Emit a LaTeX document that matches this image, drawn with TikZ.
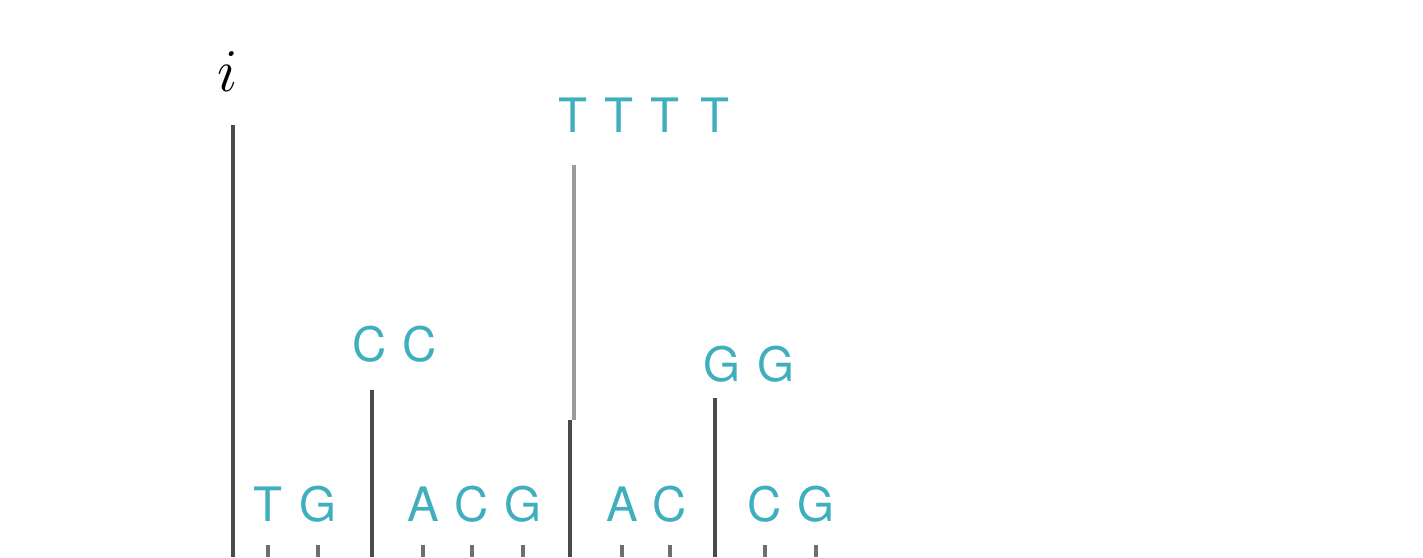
\documentclass[tikz,border=0pt]{standalone}
\usepackage{fontspec}
\setsansfont{TeX Gyre Heros}
\usepackage{xcolor}
\usepackage{tikz}
\usetikzlibrary{positioning}
\definecolor{nteal}{HTML}{3FAFBE}
\definecolor{sdark}{HTML}{4A4A4A}
\definecolor{slight}{HTML}{9A9A9A}

\begin{document}
\begin{tikzpicture}[
    base/.style={text=nteal,font=\sffamily\fontsize{13.5}{16}\selectfont,
      inner sep=0pt,anchor=base},
    stem/.style={draw=sdark,line width=0.9pt},
    stemlight/.style={draw=slight,line width=1.1pt},
    tick/.style={draw=sdark!80,line width=0.9pt}]
  \useasboundingbox (0,0) rectangle (14.23,5.57);

  % index label
  \node[inner sep=0pt,anchor=base,font=\fontsize{19}{22}\selectfont] (idx) at (2.28,4.65) {$i$};

  % internal labels
  \foreach \x [count=\k] in {5.73,6.19,6.65,7.15}
    \node[base] (tt\k) at (\x,4.24) {T};
  \foreach \x [count=\k] in {3.70,4.20}
    \node[base] (cc\k) at (\x,1.95) {C};
  \foreach \x [count=\k] in {7.22,7.76}
    \node[base] (gg\k) at (\x,1.75) {G};

  % leaf labels
  \foreach \x/\l [count=\k] in {2.68/T,3.18/G,4.23/A,4.72/C,5.23/G,6.22/A,6.70/C,7.65/C,8.16/G}
    \node[base] (b\k) at (\x,0.35) {\l};

  % stems
  \coordinate (iTop) at (2.33,4.32);
  \coordinate (iBot) at (2.33,0);
  \draw[stem] (iTop) -- (iBot);

  \coordinate (cTop) at (3.72,1.67);
  \coordinate (cBot) at (3.72,0);
  \draw[stem] (cTop) -- (cBot);

  \coordinate (tTop) at (5.74,3.92);
  \coordinate (tMid) at (5.74,1.37);
  \coordinate (tLow) at (5.70,1.37);
  \coordinate (tBot) at (5.70,0);
  \draw[stemlight] (tTop) -- (tMid);
  \draw[stem] (tLow) -- (tBot);

  \coordinate (gTop) at (7.15,1.59);
  \coordinate (gBot) at (7.15,0);
  \draw[stem] (gTop) -- (gBot);

  % leaf ticks
  \foreach \k in {1,...,9}
    \draw[tick] (b\k |- 0,0.12) -- (b\k |- 0,0);
\end{tikzpicture}
\end{document}
